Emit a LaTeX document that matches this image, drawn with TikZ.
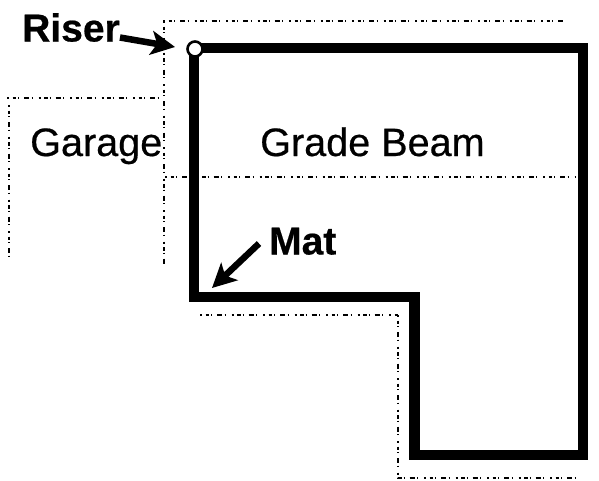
\documentclass[tikz,border=0pt]{standalone}
\usepackage{fontspec}
\setmainfont{Liberation Sans}
\newfontfamily\heavyreg[RawFeature={embolden=0.5}]{Liberation Sans}
\newfontfamily\heavybold[RawFeature={embolden=0.5}]{Liberation Sans Bold}
\usetikzlibrary{arrows.meta}
\tikzset{
  wall/.style={line width=10.5pt,line join=miter,black},
  faint/.style={line width=1.8pt,black,dash pattern=on 2pt off 3.5pt on 3.5pt off 2pt on 1pt off 5pt on 5pt off 2.5pt on 1pt off 6pt},
  label/.style={inner sep=0pt,anchor=base west,font=\heavyreg\fontsize{39.6pt}{44pt}\selectfont},
  boldlabel/.style={inner sep=0pt,anchor=base west,font=\heavybold\fontsize{39pt}{44pt}\selectfont},
  pointer/.style={line width=6.5pt,black,-{Stealth[length=24pt,width=24pt,inset=6pt]}},
  riserdot/.style={circle,draw=black,fill=white,line width=2.6pt,minimum size=15pt,inner sep=0pt}
}
\begin{document}
\begin{tikzpicture}[x=1pt,y=-1pt]
\useasboundingbox (0,0) rectangle (599,480);
% faint outlines
\draw[faint] (163,21) -- (565,21);
\draw[faint] (164,21) -- (164,265);
\draw[faint] (7,98) -- (163,98);
\draw[faint] (9,105) -- (9,262);
\draw[faint] (165,177) -- (575,177);
\draw[faint] (200,315) -- (398,315);
\draw[faint] (398,315) -- (398,478) -- (580,478);
% wall
\draw[wall] (194,48) -- (583,48) -- (583,455) -- (414.5,455) -- (414.5,297) -- (194,297) -- cycle;
\node[riserdot] (riser) at (195,49) {};
% labels
\node[boldlabel] (risertext) at (22,41.5) {Riser};
\node[label] (garage) at (30,156) {Garage};
\node[label] (beam) at (260,156) {Grade Beam};
\node[boldlabel] (mattext) at (269,254.5) {Mat};
\coordinate (risertip) at (175,47);
\coordinate (mattip) at (212,288);
\draw[pointer] (risertext.base east) ++(0,-4) -- (risertip);
\draw[pointer] (mattext.base west) ++(-10,-11) -- (mattip);
\end{tikzpicture}
\end{document}
